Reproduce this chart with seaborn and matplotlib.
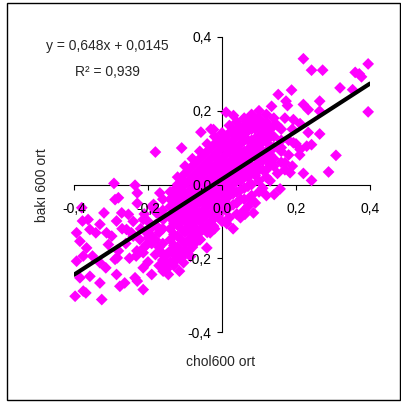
import matplotlib
matplotlib.use("Agg")
import matplotlib.pyplot as plt
import matplotlib.ticker as mticker
from matplotlib.patches import Rectangle
import seaborn as sns
import pandas as pd
import numpy as np

sns.set_style("white")
plt.rcParams['font.family'] = ['Liberation Sans', 'DejaVu Sans']

# ---- data ----
upper_right = [(0.220, 0.341), (0.242, 0.310), (0.272, 0.310), (0.395, 0.327), (0.360, 0.304),
               (0.371, 0.300), (0.377, 0.292), (0.353, 0.257), (0.319, 0.262), (0.395, 0.197),
               (0.188, 0.256), (0.152, 0.244), (0.173, 0.226), (0.177, 0.214), (0.264, 0.226),
               (0.264, 0.199), (0.220, 0.217), (0.233, 0.203), (0.134, 0.212), (0.308, 0.079),
               (0.288, 0.034), (0.242, 0.011), (0.220, 0.030), (0.264, 0.137), (0.242, 0.108),
               (0.229, 0.104), (0.211, 0.165), (0.193, 0.176), (0.233, 0.141), (0.184, 0.032),
               (0.170, 0.059), (0.193, 0.113), (0.211, 0.095), (0.157, -0.012), (0.141, -0.027),
               (0.011, 0.196), (0.031, 0.187), (0.080, 0.185), (-0.023, 0.149), (-0.057, 0.142),
               (-0.109, 0.099), (-0.180, 0.088), (0.013, -0.106), (0.062, -0.081), (0.085, -0.077),
               (0.080, -0.041)]

lower_left = [(-0.292, 0.003), (-0.235, -0.002), (-0.229, -0.023), (-0.289, -0.041), (-0.280, -0.036),
              (-0.229, -0.051), (-0.379, -0.063), (-0.377, -0.099), (-0.362, -0.095), (-0.393, -0.131),
              (-0.384, -0.154), (-0.366, -0.172), (-0.357, -0.122), (-0.341, -0.131), (-0.330, -0.108),
              (-0.319, -0.077), (-0.312, -0.131), (-0.298, -0.140), (-0.307, -0.163), (-0.285, -0.099),
              (-0.271, -0.077), (-0.253, -0.081), (-0.258, -0.122), (-0.245, -0.131), (-0.393, -0.208),
              (-0.375, -0.194), (-0.350, -0.194), (-0.330, -0.212), (-0.314, -0.226), (-0.289, -0.203),
              (-0.283, -0.199), (-0.285, -0.244), (-0.276, -0.276), (-0.263, -0.267), (-0.397, -0.303),
              (-0.375, -0.289), (-0.368, -0.294), (-0.357, -0.249), (-0.330, -0.267), (-0.325, -0.312),
              (-0.384, -0.253), (-0.235, -0.253), (-0.229, -0.262), (-0.213, -0.226), (-0.213, -0.285),
              (-0.190, -0.244), (-0.232, -0.194), (-0.213, -0.185), (-0.204, -0.163), (-0.222, -0.149),
              (-0.204, -0.131), (-0.193, -0.120), (-0.213, -0.095), (-0.185, -0.054), (-0.168, -0.023),
              (-0.177, -0.077), (-0.159, -0.095), (-0.163, -0.185), (-0.154, -0.221), (-0.145, -0.244),
              (-0.159, -0.235), (-0.132, -0.212), (-0.104, -0.212), (-0.100, -0.185), (-0.077, -0.163),
              (-0.041, -0.172), (-0.059, -0.149), (-0.127, -0.172), (-0.132, -0.086), (-0.114, -0.041),
              (-0.136, -0.041), (-0.100, -0.086), (-0.054, -0.122), (-0.032, -0.131), (-0.023, -0.113),
              (-0.095, -0.122), (-0.073, -0.131),
              (-0.19, -0.16), (-0.17, -0.17), (-0.15, -0.19), (-0.13, -0.22), (-0.115, -0.235),
              (-0.18, -0.11), (-0.20, -0.145), (-0.16, -0.205), (-0.12, -0.19), (-0.085, -0.195)]

middle = [(0.12, 0.19), (0.14, 0.18), (0.13, 0.15), (0.15, 0.16), (0.17, 0.18), (0.19, 0.15),
          (0.18, 0.12), (0.16, 0.10), (0.20, 0.11), (0.18, 0.08), (0.15, 0.03), (0.13, 0.01),
          (0.11, -0.01), (0.19, 0.05), (0.21, 0.08), (0.17, 0.04), (0.12, -0.03), (0.09, -0.05),
          (0.07, -0.06), (0.05, -0.09), (0.03, -0.12), (0.01, -0.10), (0.10, 0.20), (0.08, 0.19),
          (0.06, 0.18), (0.11, 0.16),
          (-0.20, -0.10), (-0.22, -0.12), (-0.19, -0.14), (-0.21, -0.17), (-0.18, -0.19), (-0.17, -0.13),
          (-0.24, -0.14), (-0.26, -0.16), (-0.23, -0.18), (-0.25, -0.20), (-0.27, -0.12), (-0.28, -0.18),
          (-0.20, -0.21), (-0.17, -0.22), (-0.15, -0.23), (-0.13, -0.19), (-0.11, -0.20), (-0.09, -0.18),
          (-0.07, -0.15), (-0.16, -0.07), (-0.14, -0.04), (-0.19, -0.06), (-0.21, -0.08), (-0.24, -0.10),
          (-0.12, 0.02), (-0.10, 0.05), (-0.08, 0.07), (-0.06, 0.09), (-0.04, 0.11), (-0.02, 0.13),
          (0.00, 0.14), (0.02, 0.16), (0.04, 0.17), (-0.03, 0.15)]

core_col_x = [-0.18, -0.16, -0.14, -0.12, -0.10, -0.08, -0.06, -0.04, -0.02, 0.00,
              0.02, 0.04, 0.06, 0.08, 0.10, 0.12, 0.14, 0.16,
              -0.13, -0.11, -0.09, -0.07, -0.05, -0.03, -0.01, 0.01, 0.03, 0.05,
              0.07, 0.09, 0.11, 0.13]
core_col_y = [
    [-0.07, -0.11, -0.15],
    [-0.04, -0.09, -0.12, -0.16, -0.19],
    [-0.02, -0.06, -0.09, -0.12, -0.15, -0.18, -0.21],
    [0.00, -0.03, -0.06, -0.09, -0.11, -0.14, -0.17, -0.20],
    [0.03, 0.00, -0.03, -0.05, -0.08, -0.10, -0.13, -0.16, -0.18],
    [0.05, 0.02, -0.01, -0.03, -0.06, -0.08, -0.11, -0.14, -0.17],
    [0.07, 0.04, 0.02, -0.01, -0.03, -0.05, -0.08, -0.10, -0.13, -0.15],
    [0.09, 0.06, 0.04, 0.01, -0.01, -0.03, -0.06, -0.08, -0.11, -0.13],
    [0.11, 0.08, 0.05, 0.03, 0.01, -0.02, -0.04, -0.07, -0.09, -0.12],
    [0.12, 0.10, 0.07, 0.05, 0.02, 0.00, -0.02, -0.05, -0.07, -0.10],
    [0.14, 0.11, 0.09, 0.06, 0.04, 0.02, -0.01, -0.03, -0.06, -0.09],
    [0.15, 0.13, 0.10, 0.08, 0.05, 0.03, 0.01, -0.02, -0.05, -0.08],
    [0.16, 0.14, 0.12, 0.09, 0.07, 0.04, 0.02, -0.01, -0.04, -0.07],
    [0.17, 0.15, 0.12, 0.10, 0.08, 0.05, 0.03, 0.00, -0.03],
    [0.18, 0.16, 0.13, 0.11, 0.09, 0.06, 0.04, 0.01, -0.02],
    [0.17, 0.14, 0.12, 0.09, 0.07, 0.04, 0.02],
    [0.16, 0.13, 0.10, 0.07, 0.05],
    [0.15, 0.12, 0.09, 0.06],
    [-0.015, -0.045, -0.075, -0.105, -0.135, -0.165],
    [0.015, -0.015, -0.045, -0.07, -0.095, -0.12, -0.15, -0.18],
    [0.04, 0.01, -0.02, -0.045, -0.07, -0.095, -0.12, -0.15],
    [0.06, 0.03, 0.005, -0.02, -0.045, -0.07, -0.095, -0.12, -0.14],
    [0.08, 0.05, 0.03, 0.00, -0.02, -0.045, -0.07, -0.09, -0.12],
    [0.10, 0.07, 0.045, 0.02, 0.00, -0.025, -0.05, -0.08, -0.10],
    [0.115, 0.09, 0.065, 0.04, 0.015, -0.01, -0.03, -0.06, -0.085],
    [0.13, 0.105, 0.08, 0.055, 0.03, 0.01, -0.015, -0.04, -0.07],
    [0.145, 0.12, 0.095, 0.07, 0.045, 0.025, 0.00, -0.025, -0.055],
    [0.155, 0.135, 0.11, 0.085, 0.06, 0.035, 0.01, -0.015, -0.04],
    [0.165, 0.145, 0.12, 0.095, 0.07, 0.045, 0.02, -0.005],
    [0.175, 0.15, 0.125, 0.10, 0.075, 0.05, 0.025],
    [0.165, 0.14, 0.115, 0.09, 0.065, 0.04],
    [0.155, 0.13, 0.105, 0.08, 0.055],
]

trend_slope = 0.648
trend_intercept = 0.0145
r_squared = "0,939"
ticks = [-0.4, -0.2, 0.0, 0.2, 0.4]
x_label = "chol600 ort"
y_label = "bakı 600 ort"

# ---- build table ----
pts = list(upper_right) + list(lower_left) + list(middle)
for cx, ys in zip(core_col_x, core_col_y):
    for cy in ys:
        pts.append((cx, cy))
df = pd.DataFrame(pts, columns=["chol", "baki"])

W, H = 401, 403
fig = plt.figure(figsize=(W / 100, H / 100), dpi=100)
ax = fig.add_axes([74 / W, 1 - 332 / H, 296 / W, 295 / H])

sns.scatterplot(data=df, x="chol", y="baki", marker="D", s=36, color="#FF00FF",
                edgecolor="none", linewidth=0, ax=ax, clip_on=False, zorder=1, legend=False)

line_x = np.array([ticks[0], ticks[-1]])
line_df = pd.DataFrame({"x": line_x, "y": trend_slope * line_x + trend_intercept})
sns.lineplot(data=line_df, x="x", y="y", color="black", linewidth=3, ax=ax, zorder=2)

ax.set_xlim(-0.4, 0.4)
ax.set_ylim(-0.4, 0.4)
ax.set_xticks(ticks)
ax.set_yticks(ticks)
fmt = mticker.FuncFormatter(lambda v, p: f"{v:.1f}".replace(".", ",").replace("-0,0", "0,0"))
ax.xaxis.set_major_formatter(fmt)
ax.yaxis.set_major_formatter(fmt)

for side in ["top", "right"]:
    ax.spines[side].set_visible(False)
ax.spines["left"].set_position(("data", 0))
ax.spines["bottom"].set_position(("data", 0))
for side in ["left", "bottom"]:
    ax.spines[side].set_color("black")
    ax.spines[side].set_linewidth(0.8)
    ax.spines[side].set_zorder(0.5)
ax.set_axisbelow(False)
ax.tick_params(axis="x", direction="out", length=3.5, width=0.8, pad=9, labelsize=10, colors="black")
ax.tick_params(axis="y", direction="out", length=3.5, width=0.8, pad=4, labelsize=10, colors="black")
ax.xaxis.set_ticks_position("bottom")
ax.yaxis.set_ticks_position("left")
ax.set_xlabel("")
ax.set_ylabel("")
ax.patch.set_alpha(0)

fig.text(107 / W, 1 - 46 / H, "y = 0,648x + 0,0145", ha="center", va="center", fontsize=10)
fig.text(107 / W, 1 - 72 / H, "R² = " + r_squared, ha="center", va="center", fontsize=10)
fig.text(221 / W, 1 - 362 / H, x_label, ha="center", va="center", fontsize=10)
fig.text(42 / W, 1 - 185 / H, y_label, ha="center", va="center", rotation=90, fontsize=10)

fig.patches.append(Rectangle((7 / W, 1 - 400 / H), 393 / W, 397 / H, transform=fig.transFigure,
                             fill=False, edgecolor="black", linewidth=1))

fig.savefig("out.png", dpi=100)
